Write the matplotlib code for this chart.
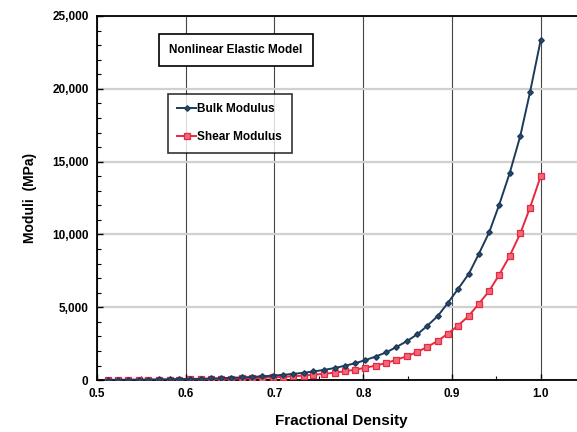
import matplotlib
matplotlib.use("Agg")
import matplotlib.pyplot as plt
from matplotlib.ticker import MultipleLocator, FuncFormatter

plt.rcParams['font.family'] = ['Liberation Sans', 'DejaVu Sans']

density = [0.512, 0.524, 0.535, 0.547, 0.558, 0.570, 0.582, 0.593, 0.605, 0.617,
           0.628, 0.640, 0.651, 0.663, 0.675, 0.686, 0.698, 0.710, 0.721, 0.733,
           0.744, 0.756, 0.768, 0.779, 0.791, 0.802, 0.814, 0.826, 0.837, 0.849,
           0.861, 0.872, 0.884, 0.895, 0.907, 0.919, 0.930, 0.942, 0.953, 0.965,
           0.977, 0.988, 1.000]

bulk_modulus = [22, 26, 30, 36, 42, 50, 59, 70, 82, 97,
                114, 135, 159, 188, 222, 262, 309, 365, 430, 508,
                599, 707, 835, 985, 1160, 1370, 1620, 1910, 2260, 2670,
                3150, 3720, 4400, 5270, 6270, 7300, 8630, 10160, 12000, 14200,
                16760, 19780, 23350]

shear_modulus = [14, 16, 19, 22, 26, 31, 36, 43, 51, 60,
                 71, 83, 98, 116, 137, 162, 191, 225, 265, 313,
                 370, 436, 515, 607, 717, 846, 998, 1180, 1390, 1640,
                 1930, 2280, 2690, 3180, 3750, 4420, 5220, 6130, 7210, 8520,
                 10070, 11850, 14000]

x_major = [0.5, 0.6, 0.7, 0.8, 0.9, 1.0]
y_major = [0, 5000, 10000, 15000, 20000, 25000]

fig = plt.figure(figsize=(5.77, 4.32), dpi=100)
# the plot frame runs a little past the right edge of the figure
ax = fig.add_axes([0.168, 0.120, 0.846, 0.843])

bulk_color = '#1c3a5a'
shear_color = '#e8283f'

ax.plot(density, bulk_modulus, color=bulk_color, lw=1.4, marker='D', ms=2.8,
        mfc='#2a4a6a', mec=bulk_color, label='Bulk Modulus', zorder=4)
ax.plot(density, shear_modulus, color=shear_color, lw=1.4, marker='s', ms=4.3,
        mfc='#ee6a7a', mec=shear_color, mew=0.9, label='Shear Modulus', zorder=3)

ax.set_xlim(0.5, 1.05)
ax.set_ylim(0, 25000)
ax.set_xticks(x_major)
ax.set_yticks(y_major)
ax.xaxis.set_minor_locator(MultipleLocator(0.05))
ax.yaxis.set_minor_locator(MultipleLocator(1000))
ax.yaxis.set_major_formatter(FuncFormatter(lambda v, p: f"{int(v):,}"))
ax.xaxis.set_major_formatter(FuncFormatter(lambda v, p: f"{v:.1f}"))

ax.tick_params(axis='both', which='major', direction='in', length=4, width=1,
               labelsize=8.5, pad=6)
ax.tick_params(axis='both', which='minor', direction='in', length=3, width=0.8)
for lab in ax.get_xticklabels() + ax.get_yticklabels():
    lab.set_fontweight('bold')

# vertical grid dark and thin, horizontal grid light and wider
ax.grid(True, axis='x', which='major', color='#444444', lw=0.8)
ax.grid(True, axis='y', which='major', color='#d0d0d0', lw=1.6)
ax.set_axisbelow(True)

for s in ax.spines.values():
    s.set_linewidth(1.3)
    s.set_color('black')

ax.set_xlabel('Fractional Density', fontsize=11, fontweight='bold', labelpad=10)
ax.set_ylabel('Moduli  (MPa)', fontsize=10, fontweight='bold', labelpad=11)

ax.text(0.285, 0.907, 'Nonlinear Elastic Model', transform=ax.transAxes,
        ha='center', va='center', fontsize=8.5, fontweight='bold',
        bbox=dict(boxstyle='square,pad=0.85', fc='white', ec='black', lw=1.2),
        zorder=6)

leg = ax.legend(loc='upper left', bbox_to_anchor=(0.1455, 0.786), fontsize=8.5,
                frameon=True, fancybox=False, edgecolor='black', handlelength=1.6,
                handletextpad=0.1, borderpad=0.8, labelspacing=1.35,
                borderaxespad=0)
leg.get_frame().set_linewidth(1.2)
for t in leg.get_texts():
    t.set_fontweight('bold')

fig.savefig('out.png', dpi=100)
